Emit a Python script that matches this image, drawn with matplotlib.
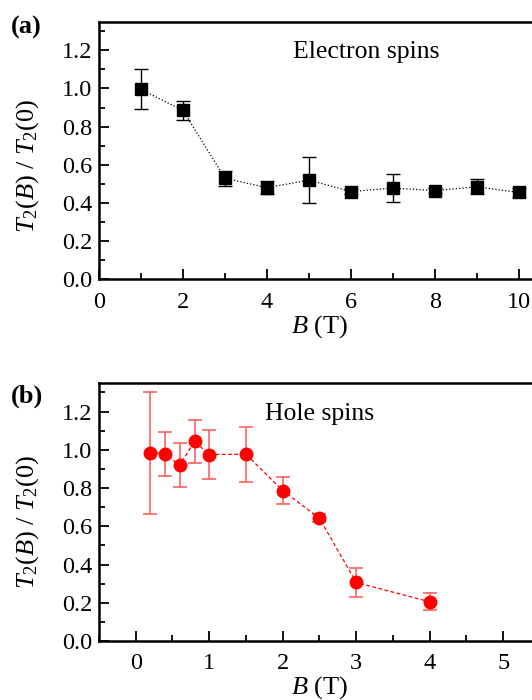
"""
    T2(B)/T2(0) pro elektronove a derove spiny
"""
import matplotlib
matplotlib.use("Agg")
import matplotlib.pyplot as plt
from matplotlib.ticker import MultipleLocator

# Elektronove spiny
electron_b = [1, 2, 3, 4, 5, 6, 7, 8, 9, 10]
electron_t2 = [0.995, 0.885, 0.53, 0.48, 0.52, 0.46, 0.478, 0.465, 0.485, 0.455]
electron_err = [0.105, 0.05, 0.04, 0.035, 0.12, 0.012, 0.072, 0.012, 0.04, 0.022]

# Derove spiny
hole_b = [0.2, 0.4, 0.6, 0.8, 1.0, 1.5, 2.0, 2.5, 3.0, 4.0]
hole_t2 = [0.985, 0.978, 0.92, 1.045, 0.975, 0.977, 0.787, 0.642, 0.306, 0.205]
hole_err = [0.32, 0.117, 0.115, 0.112, 0.13, 0.143, 0.07, 0.02, 0.075, 0.045]


def style_axes(ax, xmajor, xminor, label_y):
    ax.yaxis.set_major_locator(MultipleLocator(0.2))
    ax.yaxis.set_minor_locator(MultipleLocator(0.1))
    ax.xaxis.set_major_locator(MultipleLocator(xmajor))
    ax.xaxis.set_minor_locator(MultipleLocator(xminor))
    ax.tick_params(which="both", direction="in", top=False, right=False,
                   labelsize=17.5, width=1.3)
    ax.tick_params(axis="x", pad=9)
    ax.tick_params(axis="y", pad=5)
    ax.tick_params(which="major", length=7)
    ax.tick_params(which="minor", length=4)
    for spine in ax.spines.values():
        spine.set_linewidth(1.8)
    ax.set_ylim(0, 1.35)
    ax.yaxis.set_major_formatter(plt.FuncFormatter(lambda v, p: f"{v:.1f}"))
    ax.set_ylabel(r"$T_2(B)\ /\ T_2(0)$", fontsize=19, labelpad=3)
    ax.yaxis.set_label_coords(-0.132, label_y)
    ax.set_xlabel(r"$B$ (T)", fontsize=19, labelpad=0)


def main():
    plt.rcParams["font.family"] = "Liberation Serif"
    plt.rcParams["mathtext.fontset"] = "custom"
    plt.rcParams["mathtext.rm"] = "Liberation Serif"
    plt.rcParams["mathtext.it"] = "Liberation Serif:italic"

    fig = plt.figure(figsize=(5.32, 7.0), dpi=100)

    # Panel (a)
    ax1 = fig.add_axes([0.186, 0.601, 0.829, 0.368])
    ax1.errorbar(electron_b, electron_t2, yerr=electron_err, fmt="s", color="black",
                 markersize=9, ecolor="black", elinewidth=1, capsize=5, capthick=1)
    ax1.plot(electron_b, electron_t2, ":", color="black", lw=0.9)
    ax1.set_xlim(0, 10.5)
    style_axes(ax1, 2, 1, 0.44)
    ax1.text(0.44, 0.86, "Electron spins", transform=ax1.transAxes, fontsize=18.5)
    fig.text(0.02, 0.952, "(a)", fontsize=19, fontweight="bold")

    # Panel (b)
    ax2 = fig.add_axes([0.186, 0.0843, 0.829, 0.3687])
    ax2.errorbar(hole_b, hole_t2, yerr=hole_err, fmt="o", color="#ff0000",
                 markersize=9, ecolor="#ff5555", elinewidth=1.1, capsize=5, capthick=1.1)
    ax2.plot(hole_b, hole_t2, "--", color="#ff0000", lw=0.9, dashes=(3, 2))
    ax2.set_xlim(-0.5, 5.5)
    style_axes(ax2, 1, 0.5, 0.46)
    ax2.text(0.50, 0.855, "Hole spins", transform=ax2.transAxes, fontsize=18.5, ha="center")
    fig.text(0.02, 0.425, "(b)", fontsize=19, fontweight="bold")

    fig.savefig("out.png", dpi=100)


if __name__ == "__main__":
    main()
